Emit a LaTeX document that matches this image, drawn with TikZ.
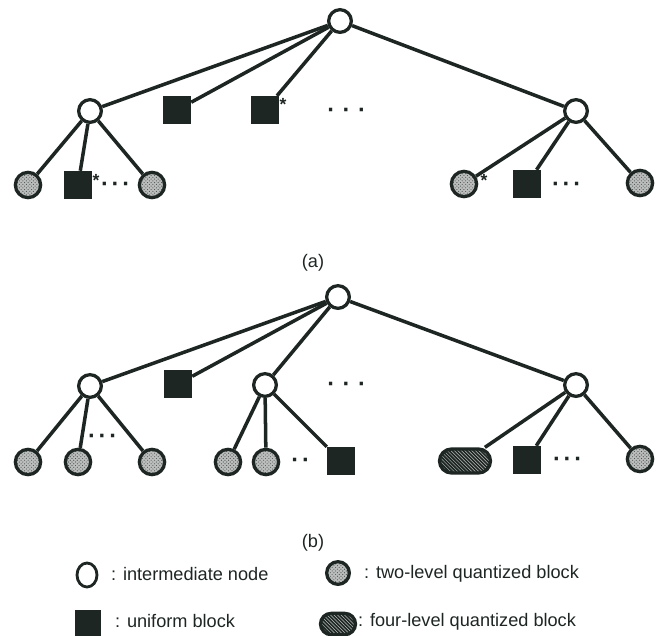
\documentclass[tikz,border=0pt]{standalone}
\usepackage{fontspec}
\setmainfont{Liberation Sans}
\newfontfamily\dotfont{DejaVu Sans}
\usetikzlibrary{patterns,shapes.geometric}

\definecolor{ink}{HTML}{1E2624}

\tikzset{
  inter/.style={circle, draw=ink, line width=2.8pt, fill=white,
    minimum size=0.68cm, inner sep=0pt},
  uniform/.style={rectangle, fill=ink, minimum size=0.84cm, inner sep=0pt},
  twolevel/.style={circle, draw=ink, line width=2.8pt, minimum size=0.76cm,
    inner sep=0pt, preaction={fill=ink!30}, pattern=crosshatch dots,
    pattern color=ink!80},
  fourlevel/.style={rectangle, rounded corners=0.36cm, draw=ink,
    line width=2.8pt, minimum width=1.53cm, minimum height=0.72cm,
    inner sep=0pt, preaction={fill=ink}, pattern=north west lines,
    pattern color=white!70!ink},
  branch/.style={draw=ink, line width=3pt},
  dotsrow/.style={inner sep=0pt, text=ink, font=\dotfont\bfseries\fontsize{16}{16}\selectfont},
  asterisk/.style={inner sep=0pt, text=ink, font=\bfseries\fontsize{15}{15}\selectfont},
  caption/.style={inner sep=0pt, text=ink, font=\fontsize{15.5}{18}\selectfont},
  legendtext/.style={anchor=west, inner sep=0pt, text=ink,
    font=\fontsize{15.5}{18}\selectfont},
}

\begin{document}
\begin{tikzpicture}[x=0.03cm, y=-0.03cm]
  \useasboundingbox (0, 0) rectangle (662, 636);

  % tree (a)
  \node[inter] (rootA) at (340, 21) {};
  \node[inter] (leftA) at (90, 111) {};
  \node[uniform] (sqA1) at (177, 110) {};
  \node[uniform] (sqA2) at (265, 110) {};
  \node[inter] (rightA) at (576, 111) {};
  \node[dotsrow] (dotsA) at (346, 112) {·\hspace{7pt}·\hspace{7pt}·};
  \node[asterisk] (astA1) at (283, 104) {*};

  \node[twolevel] (la1) at (28, 185) {};
  \node[uniform] (la2) at (78, 185) {};
  \node[twolevel] (la3) at (152, 185) {};
  \node[dotsrow] (dotsLA) at (115, 186) {·\hspace{3pt}·\hspace{3pt}·};
  \node[asterisk] (astA2) at (96, 180) {*};

  \node[twolevel] (ra1) at (464, 184) {};
  \node[uniform] (ra2) at (527, 184) {};
  \node[twolevel] (ra3) at (640, 183) {};
  \node[dotsrow] (dotsRA) at (566, 186) {·\hspace{3pt}·\hspace{3pt}·};
  \node[asterisk] (astA3) at (484, 180) {*};

  \foreach \c in {leftA, sqA1, sqA2, rightA}
    \draw[branch] (rootA) -- (\c);
  \foreach \c in {la1, la2, la3}
    \draw[branch] (leftA) -- (\c);
  \foreach \c in {ra1, ra2, ra3}
    \draw[branch] (rightA) -- (\c);

  \node[caption] (capA) at (313, 263) {(a)};

  % tree (b)
  \node[inter] (rootB) at (338, 297) {};
  \node[inter] (leftB) at (90, 386) {};
  \node[uniform] (sqB) at (178, 384) {};
  \node[inter] (midB) at (265, 385) {};
  \node[inter] (rightB) at (576, 385) {};
  \node[dotsrow] (dotsB) at (346, 386) {·\hspace{7pt}·\hspace{7pt}·};

  \node[twolevel] (lb1) at (28, 462) {};
  \node[twolevel] (lb2) at (78, 462) {};
  \node[twolevel] (lb3) at (152, 462) {};
  \node[dotsrow] (dotsLB) at (102, 438) {·\hspace{3pt}·\hspace{3pt}·};

  \node[twolevel] (mb1) at (228, 462) {};
  \node[twolevel] (mb2) at (266, 462) {};
  \node[uniform] (mb3) at (341, 461) {};
  \node[dotsrow] (dotsMB) at (300, 462) {·\hspace{3pt}·};

  \node[fourlevel] (rb1) at (465, 461) {};
  \node[uniform] (rb2) at (527, 460) {};
  \node[twolevel] (rb3) at (640, 459) {};
  \node[dotsrow] (dotsRB) at (567, 461) {·\hspace{3pt}·\hspace{3pt}·};

  \foreach \c in {leftB, sqB, midB, rightB}
    \draw[branch] (rootB) -- (\c);
  \foreach \c in {lb1, lb2, lb3}
    \draw[branch] (leftB) -- (\c);
  \foreach \c in {mb1, mb2, mb3}
    \draw[branch] (midB) -- (\c);
  \foreach \c in {rb1, rb2, rb3}
    \draw[branch] (rightB) -- (\c);

  \node[caption] (capB) at (313, 543) {(b)};

  % legend
  \node[inter, ellipse, line width=2.4pt, minimum width=0.6cm, minimum height=0.72cm] (legI) at (87, 575) {};
  \node[legendtext] (txtI) at (111, 574) {: intermediate node};
  \node[twolevel, minimum size=0.68cm] (legT) at (338, 573) {};
  \node[legendtext] (txtT) at (364, 574) {: two-level quantized block};
  \node[uniform, minimum width=0.75cm, minimum height=0.81cm] (legU) at (88, 623) {};
  \node[legendtext] (txtU) at (115, 621) {: uniform block};
  \node[fourlevel, minimum width=1.05cm, minimum height=0.64cm, rounded corners=0.32cm] (legF) at (338, 624) {};
  \node[legendtext] (txtF) at (358, 622) {: four-level quantized block};
\end{tikzpicture}
\end{document}
